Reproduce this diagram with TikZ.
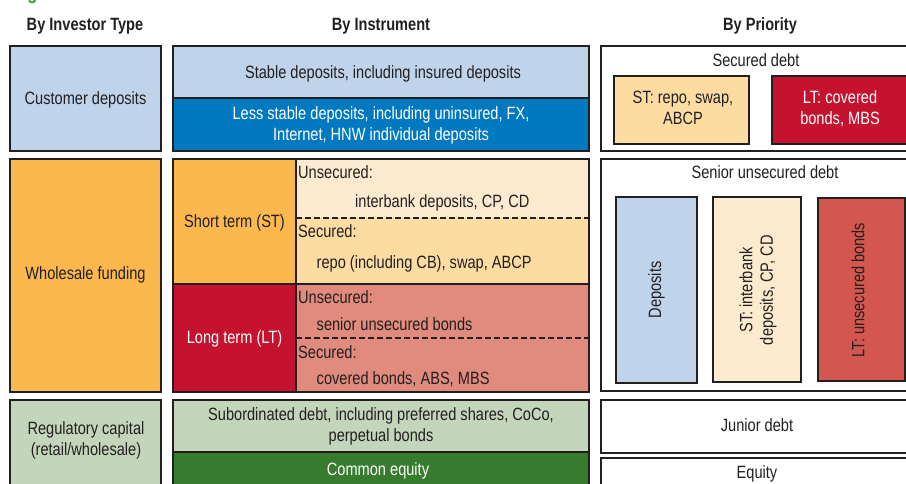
\documentclass[tikz,border=0pt]{standalone}
\usepackage{fontspec}
\setmainfont[FakeStretch=0.82]{Liberation Sans}
\definecolor{ink}{HTML}{231F20}
\definecolor{ltblue}{HTML}{BFD3EB}
\definecolor{midblue}{HTML}{0079C1}
\definecolor{orange}{HTML}{FBB84E}
\definecolor{cream}{HTML}{FDEBCF}
\definecolor{peach}{HTML}{FDDCA2}
\definecolor{crimson}{HTML}{C4122F}
\definecolor{salmon}{HTML}{E08B7D}
\definecolor{redbox}{HTML}{D3574F}
\definecolor{ltgreen}{HTML}{C3D6BC}
\definecolor{dkgreen}{HTML}{367B2E}
\definecolor{figgreen}{HTML}{3A9A3A}
\newcommand\fs{\fontsize{17.8}{20.7}\selectfont}
\begin{document}
\begin{tikzpicture}[x=1pt,y=-1pt,
  box/.style={draw=ink, line width=2.6pt},
  ibox/.style={draw=ink, line width=2.2pt},
  dashline/.style={draw=ink, line width=1.6pt, dash pattern=on 6pt off 3pt},
  lbl/.style={font=\fs, text=ink, inner sep=0pt, anchor=base},
  wlbl/.style={lbl, text=white},
  hdr/.style={lbl, font=\fs\bfseries},
  rot/.style={font=\fs, text=ink, inner sep=0pt, rotate=90, anchor=center, align=center}]
\useasboundingbox (0,0) rectangle (906,483);
% cut-off title glyph
\node[lbl, font=\fontsize{20}{24}\selectfont\bfseries, text=figgreen] (figg) at (32.5,-1) {g};
% headers
\node[hdr] (h1) at (85,30.8) {By Investor Type};
\node[hdr] (h2) at (381,30.2) {By Instrument};
\node[hdr] (h3) at (760,30.5) {By Priority};

% ---------- row 1 ----------
\draw[box, fill=ltblue] (10,46) rectangle (161,151);
\node[lbl] (cust) at (85.5,104) {Customer deposits};

\fill[ltblue] (173,46) rectangle (589,98);
\fill[midblue] (173,98) rectangle (589,151);
\draw[ibox] (173,98) -- (589,98);
\draw[box] (173,46) rectangle (589,151);
\node[lbl] (stable) at (383,78.3) {Stable deposits, including insured deposits};
\node[wlbl, align=center] (less) at (381,140) {Less stable deposits, including uninsured, FX,\\Internet, HNW individual deposits};

\draw[box, fill=white] (601,46) rectangle (925,151);
\node[lbl] (secd) at (756,66) {Secured debt};
\draw[ibox, fill=peach] (614,76) rectangle (749,144);
\node[lbl, align=center] (strepo) at (683,124) {ST: repo, swap,\\ABCP};
\draw[ibox, fill=crimson] (772,76) rectangle (910,144);
\node[wlbl, align=center] (ltcov) at (840,124) {LT: covered\\bonds, MBS};

% ---------- row 2 ----------
\draw[box, fill=orange] (10,159) rectangle (161,392);
\node[lbl] (whole) at (85.5,279) {Wholesale funding};

\fill[orange] (173,159) rectangle (296,284);
\fill[crimson] (173,284) rectangle (296,392);
\fill[cream] (296,159) rectangle (589,218);
\fill[peach] (296,218) rectangle (589,284);
\fill[salmon] (296,284) rectangle (589,392);
\draw[dashline] (296,218) -- (589,218);
\draw[dashline] (296,338) -- (589,338);
\draw[ibox] (173,284) -- (589,284);
\draw[ibox] (296,159) -- (296,392);
\draw[box] (173,159) rectangle (589,392);
\node[lbl] (stl) at (234.5,227.7) {Short term (ST)};
\node[wlbl] (ltl) at (234.5,343.3) {Long term (LT)};
\node[lbl, anchor=base west] (u1) at (298,178.3) {Unsecured:};
\node[lbl, anchor=base west] (u1t) at (355,207.3) {interbank deposits, CP, CD};
\node[lbl, anchor=base west] (s1) at (298,237.3) {Secured:};
\node[lbl, anchor=base west] (s1t) at (316.5,268.5) {repo (including CB), swap, ABCP};
\node[lbl, anchor=base west] (u2) at (298,303.3) {Unsecured:};
\node[lbl, anchor=base west] (u2t) at (316.5,330) {senior unsecured bonds};
\node[lbl, anchor=base west] (s2) at (298,358.3) {Secured:};
\node[lbl, anchor=base west] (s2t) at (316.5,384.3) {covered bonds, ABS, MBS};

\draw[box, fill=white] (601,159) rectangle (925,391);
\node[lbl] (senior) at (765,178.3) {Senior unsecured debt};
\draw[ibox, fill=ltblue] (616,197) rectangle (697,383);
\node[rot] (dep) at (656.5,290) {Deposits};
\draw[ibox, fill=cream] (713,197) rectangle (801,382);
\node[rot] (stinter) at (758,290) {ST: interbank\\deposits, CP, CD};
\draw[ibox, fill=redbox] (818,198) rectangle (905,381);
\node[rot] (ltuns) at (858,290) {LT: unsecured bonds};

% ---------- row 3 ----------
\draw[box, fill=ltgreen] (10,400) rectangle (161,500);
\node[lbl, align=center] (reg) at (86,455.5) {Regulatory capital\\(retail/wholesale)};

\fill[ltgreen] (173,400) rectangle (589,452);
\fill[dkgreen] (173,452) rectangle (589,500);
\draw[ibox] (173,452) -- (589,452);
\draw[box] (173,400) rectangle (589,500);
\node[lbl, align=center] (sub) at (381,441.5) {Subordinated debt, including preferred shares, CoCo,\\perpetual bonds};
\node[wlbl] (ceq) at (378,475) {Common equity};

\draw[box, fill=white] (601,400) rectangle (925,453);
\node[lbl] (jun) at (757,431.7) {Junior debt};
\draw[box, fill=white] (601,458) rectangle (925,520);
\node[lbl] (eq) at (757,478.3) {Equity};
\end{tikzpicture}
\end{document}
